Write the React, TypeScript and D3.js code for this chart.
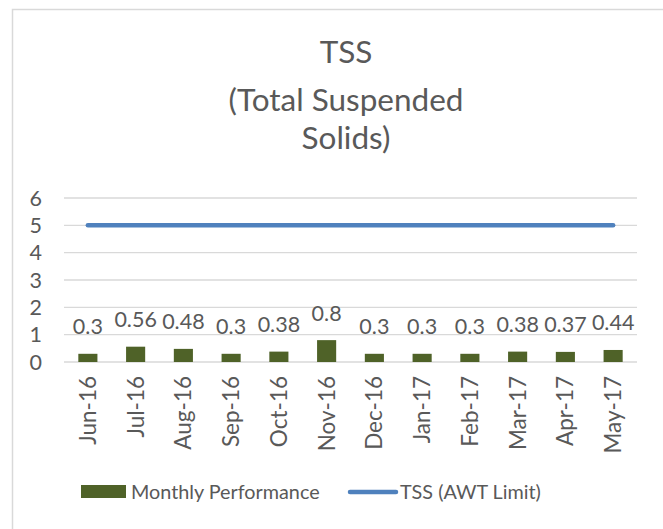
import React from "react";
import * as d3 from "d3";

const months = ["Jun-16", "Jul-16", "Aug-16", "Sep-16", "Oct-16", "Nov-16", "Dec-16", "Jan-17", "Feb-17", "Mar-17", "Apr-17", "May-17"];
const monthly = [0.3, 0.56, 0.48, 0.3, 0.38, 0.8, 0.3, 0.3, 0.3, 0.38, 0.37, 0.44];
const limit = [5, 5, 5, 5, 5, 5, 5, 5, 5, 5, 5, 5];
const yTicks = [0, 1, 2, 3, 4, 5, 6];
const titleLines = ["TSS", "(Total Suspended", "Solids)"];
const legendNames = ["Monthly Performance", "TSS (AWT Limit)"];

const W = 663;
const H = 529;
const FONT = "Lato, 'Open Sans', sans-serif";
const TEXT = "#595959";
const GRID = "#d9d9d9";
const BAR = "#4f6228";
const LINE = "#4f81bd";

export default function App() {
  const x = d3.scaleBand<string>().domain(months).range([64, 637]).padding(0);
  const y = d3.scaleLinear().domain([0, 6]).range([362, 198]);
  const barW = x.bandwidth() * 0.4;
  const cx = (m: string) => (x(m) ?? 0) + x.bandwidth() / 2;

  const line = d3
    .line<number>()
    .x((_, i) => cx(months[i]))
    .y((d) => y(d));

  const titleY = [63, 111, 149];

  return (
    <svg
      width={W}
      height={H}
      style={{ position: "absolute", left: 0, top: 0, background: "#fff" }}
      fontFamily={FONT}
    >
      <rect x={12.5} y={9.5} width={W} height={H} fill="#fff" stroke={GRID} strokeWidth={1.5} />

      {titleLines.map((t, i) => (
        <text key={t} x={346} y={titleY[i]} textAnchor="middle" fontSize={31.5} fill={TEXT}>
          {t}
        </text>
      ))}

      {yTicks.map((t) => (
        <g key={t}>
          <line x1={64} x2={637} y1={y(t)} y2={y(t)} stroke={GRID} strokeWidth={1.3} />
          <text x={42} y={y(t)} dy="0.36em" textAnchor="end" fontSize={21.5} fill={TEXT}>
            {t}
          </text>
        </g>
      ))}

      {monthly.map((v, i) => (
        <g key={months[i]}>
          <rect x={cx(months[i]) - barW / 2} y={y(v)} width={barW} height={y(0) - y(v)} fill={BAR} />
          <text x={cx(months[i])} y={y(v) - 19.5} textAnchor="middle" fontSize={21.5} fill={TEXT}>
            {v}
          </text>
        </g>
      ))}

      <path d={line(limit) ?? ""} fill="none" stroke={LINE} strokeWidth={4.5} strokeLinecap="round" />

      {months.map((m) => (
        <text
          key={m}
          transform={`translate(${cx(m)},376) rotate(-90)`}
          textAnchor="end"
          dy="0.36em"
          fontSize={22.5}
          fill={TEXT}
        >
          {m}
        </text>
      ))}

      <rect x={81} y={485} width={45} height={13} fill={BAR} />
      <text x={131} y={492} dy="0.36em" fontSize={19.8} fill={TEXT}>
        {legendNames[0]}
      </text>
      <line x1={350} x2={396} y1={492} y2={492} stroke={LINE} strokeWidth={4.5} strokeLinecap="round" />
      <text x={400} y={492} dy="0.36em" fontSize={19.8} fill={TEXT}>
        {legendNames[1]}
      </text>
    </svg>
  );
}
